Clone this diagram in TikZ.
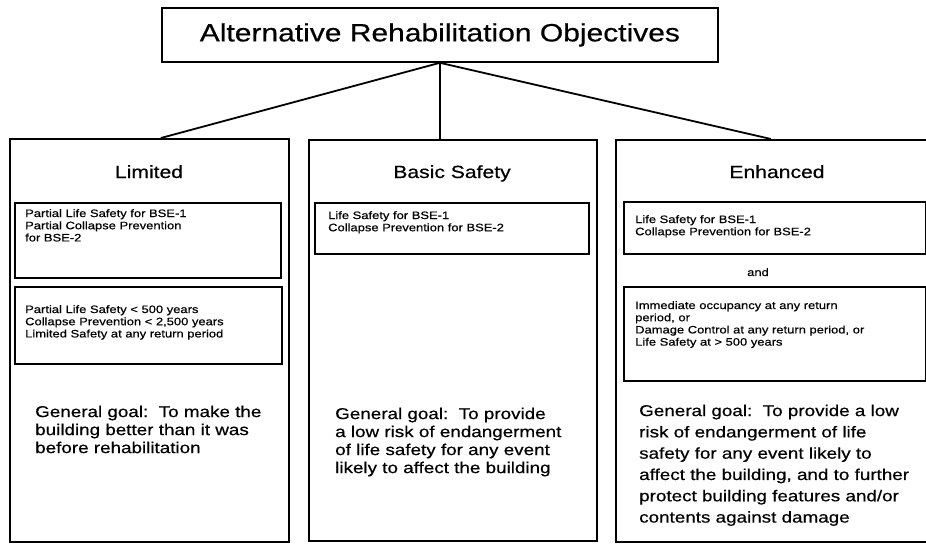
\documentclass[tikz,border=0pt]{standalone}
\usepackage{fontspec}
\setmainfont{Liberation Sans}[FakeStretch=1.2,FakeBold=0.5]
\begin{document}
\begin{tikzpicture}[x=1pt,y=-1pt,
        box/.style={draw, line width=1.8pt, inner sep=0pt, anchor=north west},
        head/.style={font=\fontsize{17.6}{21}\selectfont, inner sep=0pt, anchor=base},
        small/.style={font=\fontsize{10.8}{12.2}\selectfont, align=left, inner sep=0pt, anchor=north west},
        goal/.style={font=\fontsize{15.7}{18}\selectfont, align=left, inner sep=0pt, anchor=north west}]
            \useasboundingbox (0,0) rectangle (926,544);
            \clip (0,0) rectangle (926,544);
            \node[box, minimum width=556pt, minimum height=54pt, font=\fontsize{25}{30}\selectfont] (title) at (161,7) {Alternative Rehabilitation Objectives};
            \node[box, minimum width=279pt, minimum height=403pt] (lim) at (9,138) {};
            \node[box, minimum width=288pt, minimum height=401pt] (bas) at (308,139) {};
            \node[box, minimum width=323pt, minimum height=402pt] (enh) at (615,139) {};
            \draw[line width=1.8pt] (title.south) -- ([xshift=11.5pt]lim.north);
            \draw[line width=1.8pt] (title.south) -- (title.south |- bas.north);
            \draw[line width=1.8pt] (title.south) -- ([xshift=-6.5pt]enh.north);
            \node[head] (limhead) at (149,178) {Limited};
            \node[head] (bashead) at (452,178) {Basic Safety};
            \node[head] (enhhead) at (777,178) {Enhanced};
            % limited column
            \node[box, minimum width=266pt, minimum height=75pt] (lim1) at (14,202) {};
            \node[small] (lim1text) at (25,209) {Partial Life Safety for BSE-1\\Partial Collapse Prevention\\for BSE-2};
            \node[box, minimum width=267pt, minimum height=77pt] (lim2) at (14,286) {};
            \node[small] (lim2text) at (25,305) {Partial Life Safety < 500 years\\Collapse Prevention < 2,500 years\\Limited Safety at any return period};
            \node[goal] (limgoal) at (35,405.5) {General goal:\ \ To make the\\building better than it was\\before rehabilitation};
            % basic safety column
            \node[box, minimum width=274pt, minimum height=51pt] (bas1) at (314,202) {};
            \node[small] (bas1text) at (328,211) {Life Safety for BSE-1\\Collapse Prevention for BSE-2};
            \node[goal] (basgoal) at (335,407.5) {General goal:\ \ To provide\\a low risk of endangerment\\of life safety for any event\\likely to affect the building};
            % enhanced column
            \node[box, minimum width=302pt, minimum height=52pt] (enh1) at (623,201) {};
            \node[small] (enh1text) at (635,215) {Life Safety for BSE-1\\Collapse Prevention for BSE-2};
            \node[small, anchor=base] (and) at (758,276) {and};
            \node[box, minimum width=302pt, minimum height=94pt] (enh2) at (623,286) {};
            \node[small] (enh2text) at (635,301) {Immediate occupancy at any return\\period, or\\Damage Control at any return period, or\\Life Safety at > 500 years};
            \node[goal, font=\fontsize{15.7}{21.3}\selectfont] (enhgoal) at (639,404.5) {General goal:\ \ To provide a low\\risk of endangerment of life\\safety for any event likely to\\affect the building, and to further\\protect building features and/or\\contents against damage};
        \end{tikzpicture}
\end{document}
